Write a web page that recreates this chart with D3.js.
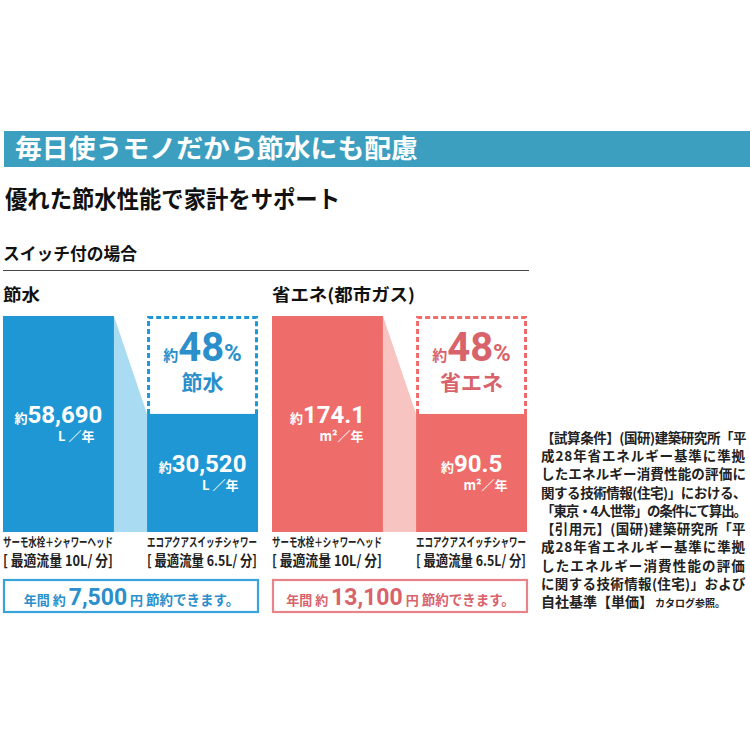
<!DOCTYPE html>
<html><head><meta charset="utf-8">
<script src="https://cdn.jsdelivr.net/npm/d3@7"></script>
<style>
html,body{margin:0;padding:0;background:#fff;}
svg{display:block;}
text{font-family:"Noto Sans CJK JP","Noto Sans",sans-serif;}
</style></head>
<body>
<script>
// ---------- data ----------
const headerTitle = "毎日使うモノだから節水にも配慮";
const subTitle = "優れた節水性能で家計をサポート";
const sectionTitle = "スイッチ付の場合";
const panelTitles = ["節水", "省エネ(都市ガス)"];
const categories = ["サーモ水栓＋シャワーヘッド", "エコアクアスイッチシャワー"];
const flowLabels = ["[ 最適流量 10L/ 分]", "[ 最適流量 6.5L/ 分]"];
const waterValues = [58690, 30520];
const energyValues = [174.1, 90.5];
const valueLabels = [["58,690", "30,520"], ["174.1", "90.5"]];
const unitLabels = ["L ／年", "m²／年"];
const reductionPct = [48, 48];
const reductionWords = ["節水", "省エネ"];
const savingsYen = ["7,500", "13,100"];
const noteLines = [
  "【試算条件】(国研)建築研究所「平",
  "成28年省エネルギー基準に準拠",
  "したエネルギー消費性能の評価に",
  "関する技術情報(住宅)」における、",
  "「東京・4人世帯」の条件にて算出。",
  "【引用元】(国研)建築研究所「平",
  "成28年省エネルギー基準に準拠",
  "したエネルギー消費性能の評価",
  "に関する技術情報(住宅)」および"
];
const noteLast = ["自社基準【単価】", "カタログ参照。"];

// ---------- styles ----------
const themes = [
  {bar:"#1F97D4", light:"#A9DBF3", text:"#2A8FCB", border:"#3BA3DA"},
  {bar:"#EE6D6B", light:"#F8C4C1", text:"#D8636B", border:"#E5848A"}
];
const NUM = "Roboto, 'Liberation Sans', sans-serif";

const svg = d3.select("body").append("svg").attr("width",750).attr("height",750);

// header band
svg.append("rect").attr("x",4).attr("y",131).attr("width",746).attr("height",36).attr("fill","#3C9FBF");
svg.append("text").attr("x",15).attr("y",158).attr("fill","#fff").attr("font-size",26).attr("font-weight",700)
  .attr("textLength",403).attr("lengthAdjust","spacingAndGlyphs").text(headerTitle);
svg.append("text").attr("x",5).attr("y",208).attr("fill","#111").attr("font-size",24).attr("font-weight",700)
  .attr("textLength",335).attr("lengthAdjust","spacingAndGlyphs").text(subTitle);
svg.append("text").attr("x",3).attr("y",260).attr("fill","#111").attr("font-size",17).attr("font-weight",700)
  .attr("textLength",134).attr("lengthAdjust","spacingAndGlyphs").text(sectionTitle);
svg.append("line").attr("x1",3).attr("x2",529).attr("y1",270.5).attr("y2",270.5).attr("stroke","#444").attr("stroke-width",1);

const panelX = [3, 272];
const panelW = 255;
const plotTop = 316, plotBottom = 532, scaleBase = 520;
const datasets = [waterValues, energyValues];
const titleLens = [37, 143];

panelTitles.forEach((pt, i) => {
  const th = themes[i];
  const g = svg.append("g");
  const vals = datasets[i];
  g.append("text").attr("x",panelX[i]).attr("y",301).attr("fill","#111").attr("font-size",17).attr("font-weight",700)
    .attr("textLength",titleLens[i]).attr("lengthAdjust","spacingAndGlyphs").text(pt);

  const x = d3.scaleBand().domain(categories).range([panelX[i], panelX[i]+panelW]).paddingInner(0.23).paddingOuter(0);
  const y = d3.scaleLinear().domain([0, d3.max(vals)]).range([scaleBase, plotTop]);
  const bw = x.bandwidth();
  const c0 = categories[0], c1 = categories[1];

  // connector
  g.append("path").attr("fill", th.light)
    .attr("d", d3.line()([[x(c0)+bw, y(vals[0])],[x(c1), y(vals[1])],[x(c1), plotBottom],[x(c0)+bw, plotBottom]]) + "Z");

  // bars
  g.selectAll("rect.bar").data(vals).join("rect").attr("class","bar")
    .attr("x",(d,j)=>x(categories[j])).attr("width",bw)
    .attr("y",d=>y(d)).attr("height",d=>plotBottom-y(d)).attr("fill",th.bar);

  // dashed box
  const bx0 = x(c1)+1.5, bx1 = x(c1)+bw-1.5, by0 = y(vals[0])+1.5, by1 = y(vals[1]);
  g.append("path").attr("fill","none").attr("stroke",th.bar).attr("stroke-width",3).attr("stroke-dasharray","5,3")
    .attr("d", d3.line()([[bx0,by1],[bx0,by0],[bx1,by0],[bx1,by1]]));

  const bc = x(c1)+bw/2;
  const pctText = g.append("text").attr("x",bc).attr("y",by0+43).attr("text-anchor","middle").attr("fill",th.text).attr("font-weight",700);
  pctText.append("tspan").attr("font-size",15).text("約");
  pctText.append("tspan").attr("font-size",40).attr("font-family",NUM).text(reductionPct[i]);
  pctText.append("tspan").attr("font-size",24).attr("font-family",NUM).text("%");
  g.append("text").attr("x",bc).attr("y",by0+72).attr("text-anchor","middle").attr("fill",th.text)
    .attr("font-weight",700).attr("font-size",21).text(reductionWords[i]);

  // values in bars
  vals.forEach((v, j) => {
    const cx = x(categories[j]) + bw/2;
    const mid = (y(v) + plotBottom)/2;
    const t = g.append("text").attr("x",cx).attr("y",mid-1).attr("text-anchor","middle").attr("fill","#fff").attr("font-weight",700);
    t.append("tspan").attr("font-size",13).text("約");
    t.append("tspan").attr("font-size",24).attr("font-family",NUM).text(valueLabels[i][j]);
    g.append("text").attr("x",cx+36).attr("y",mid+17).attr("text-anchor","end").attr("fill","#fff")
      .attr("font-size",13).attr("font-weight",700).text(unitLabels[i]);

    // labels below
    g.append("text").attr("x",x(categories[j])).attr("y",547).attr("fill","#222").attr("font-size",12.5).attr("font-weight",700)
      .attr("textLength",bw-1).attr("lengthAdjust","spacingAndGlyphs").text(categories[j]);
    g.append("text").attr("x",x(categories[j])).attr("y",566).attr("fill","#222").attr("font-size",14.5).attr("font-weight",700)
      .attr("textLength",bw-1).attr("lengthAdjust","spacingAndGlyphs").text(flowLabels[j]);
  });

  // savings box
  g.append("rect").attr("x",panelX[i]+1).attr("y",580).attr("width",panelW-1).attr("height",32)
    .attr("fill","#fff").attr("stroke",th.border).attr("stroke-width",2.2);
  const st = g.append("text").attr("x",panelX[i]+panelW/2+1).attr("y",605).attr("text-anchor","middle")
    .attr("fill",th.text).attr("font-weight",700);
  st.append("tspan").attr("font-size",13).text("年間 約 ");
  st.append("tspan").attr("font-size",23).attr("font-family",NUM).text(savingsYen[i]);
  st.append("tspan").attr("font-size",13).text(" 円 ");
  st.append("tspan").attr("font-size",13.5).text("節約できます。");
});

// notes: fit each line to the column width with letter-spacing
const noteX = 541, noteW = 205;
const noteY = d3.scaleLinear().domain([0, 9]).range([443, 607]);
svg.append("g").selectAll("text").data(noteLines).join("text")
  .attr("x",noteX).attr("y",(d,k)=>noteY(k)).attr("fill","#222").attr("font-size",13.5).attr("font-weight",700)
  .text(d=>d)
  .each(function(d){
    const w = this.getComputedTextLength();
    const n = Array.from(d).length;
    this.setAttribute("letter-spacing", ((noteW - w) / n).toFixed(2));
  });
const last = svg.append("text").attr("x",noteX).attr("y",noteY(9)).attr("fill","#222").attr("font-weight",700);
last.append("tspan").attr("font-size",14).text(noteLast[0]);
last.append("tspan").attr("font-size",10).attr("dx",2).text(noteLast[1]);
</script>
</body></html>
